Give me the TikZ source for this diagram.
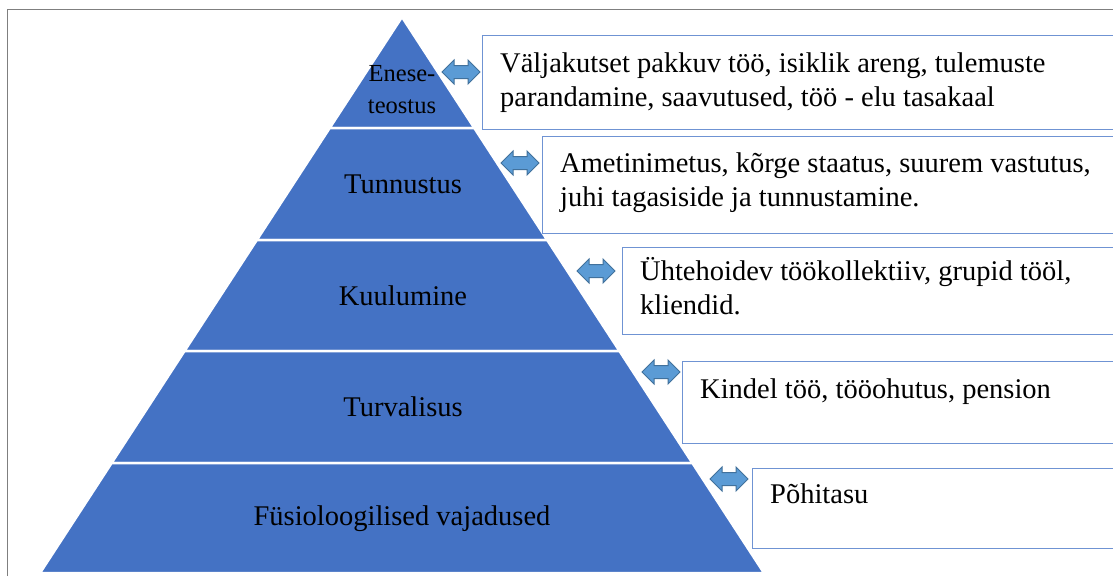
\documentclass[tikz,border=0pt]{standalone}
\usepackage{fontspec}
\setmainfont{Liberation Serif}
\usetikzlibrary{shapes.arrows}
\definecolor{pyrblue}{HTML}{4472C4}
\definecolor{arrblue}{HTML}{5B9BD5}
\definecolor{arredge}{HTML}{41719C}
\definecolor{boxedge}{HTML}{6F93D3}
\definecolor{framegray}{HTML}{7F7F7F}
\newcommand{\boxstrut}{\rule{0pt}{26pt}}
\begin{document}
\begin{tikzpicture}[x=1pt, y=-1pt,
  band/.style={fill=pyrblue, draw=white, line width=2.5pt, line join=miter},
  level/.style={font=\fontsize{28.5}{32}\selectfont, inner sep=0pt},
  infobox/.style={draw=boxedge, line width=1pt, anchor=north west, minimum width=700pt, inner sep=0pt},
  infotext/.style={anchor=north west, inner sep=0pt, align=left, font=\fontsize{28.5}{34}\selectfont},
  link/.style={double arrow, fill=arrblue, draw=arredge, line width=1pt, minimum width=24pt, minimum height=38pt, double arrow head extend=5.5pt, inner xsep=2pt, inner ysep=6pt}]
% page size
\useasboundingbox (0,0) rectangle (1113,576);
\clip (0,0) rectangle (1113,576);
% frame
\draw[framegray, line width=1pt] (7,576) -- (7,9) -- (1113,9);
% pyramid, five bands
\fill[band] (402,17) -- (474.3,128) -- (329.7,128) -- cycle;
\fill[band] (329.7,128) -- (474.3,128) -- (547.2,240) -- (256.8,240) -- cycle;
\fill[band] (256.8,240) -- (547.2,240) -- (619.5,351) -- (184.5,351) -- cycle;
\fill[band] (184.5,351) -- (619.5,351) -- (692.4,463) -- (111.6,463) -- cycle;
\fill[band] (111.6,463) -- (692.4,463) -- (764,573) -- (40,573) -- cycle;
% levels
\node[level, font=\fontsize{24.5}{32}\selectfont, align=center] (selfact) at (402,90) {Enese-\\teostus};
\node[level] (esteem) at (403,184) {Tunnustus};
\node[level] (belong) at (403,296) {Kuulumine};
\node[level] (safety) at (403,407) {Turvalisus};
\node[level] (physio) at (402,519) {Füsioloogilised vajadused};
% boxes
\node[infobox, minimum height=94pt] (box1) at (482,35) {};
\node[infobox, minimum height=97pt] (box2) at (542,136) {};
\node[infobox, minimum height=87pt] (box3) at (622,247) {};
\node[infobox, minimum height=82pt] (box4) at (682,361) {};
\node[infobox, minimum height=80pt] (box5) at (752,468) {};
% texts (first baseline 26pt below the node top)
\node[infotext] (text1) at (500,46) {\boxstrut Väljakutset pakkuv töö, isiklik areng, tulemuste\\parandamine, saavutused, töö - elu tasakaal};
\node[infotext] (text2) at (560,146) {\boxstrut Ametinimetus, kõrge staatus, suurem vastutus,\\juhi tagasiside ja tunnustamine.};
\node[infotext] (text3) at (640,254) {\boxstrut Ühtehoidev töökollektiiv, grupid tööl,\\kliendid.};
\node[infotext] (text4) at (700,372) {\boxstrut Kindel töö, tööohutus, pension};
\node[infotext] (text5) at (770,477) {\boxstrut Põhitasu};
% arrows
\node[link] (link1) at (461,72) {};
\node[link] (link2) at (520,163) {};
\node[link] (link3) at (596,271) {};
\node[link] (link4) at (661,372) {};
\node[link] (link5) at (729,479) {};
\end{tikzpicture}
\end{document}
